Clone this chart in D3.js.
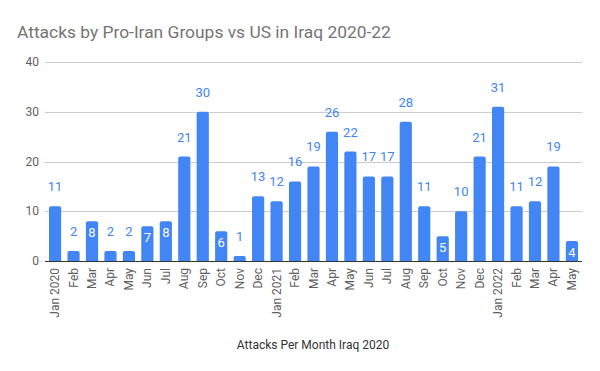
<!DOCTYPE html>
<html>
<head>
<meta charset="utf-8">
<script src="https://cdn.jsdelivr.net/npm/d3@7"></script>
<style>
  body { margin: 0; background: #fff; }
  text { font-family: Roboto, "Noto Sans", sans-serif; }
</style>
</head>
<body>
<script>
const width = 600;
const height = 371;

// data
const months = ["Jan 2020", "Feb", "Mar", "Apr", "May", "Jun", "Jul", "Aug", "Sep", "Oct", "Nov", "Dec",
  "Jan 2021", "Feb", "Mar", "Apr", "May", "Jun", "Jul", "Aug", "Sep", "Oct", "Nov", "Dec",
  "Jan 2022", "Feb", "Mar", "Apr", "May"];
const attacks = [11, 2, 8, 2, 2, 7, 8, 21, 30, 6, 1, 13,
  12, 16, 19, 26, 22, 17, 17, 28, 11, 5, 10, 21,
  31, 11, 12, 19, 4];
const yTicks = [0, 10, 20, 30, 40];

const data = months.map((m, i) => ({ key: i, label: m, value: attacks[i] }));

const svg = d3.select("body")
  .append("svg")
  .attr("width", width)
  .attr("height", height);

const x = d3.scaleBand()
  .domain(data.map(d => d.key))
  .range([49, 578])
  .paddingInner(0.34)
  .paddingOuter(0);

const y = d3.scaleLinear()
  .domain([0, 40])
  .range([261, 62]);

// title
svg.append("text")
  .attr("x", 17)
  .attr("y", 38)
  .style("font-size", "17.4px")
  .style("fill", "#757575")
  .text("Attacks by Pro-Iran Groups vs US in Iraq 2020-22");

// gridlines
svg.append("g")
  .selectAll("line")
  .data(yTicks)
  .enter().append("line")
  .attr("x1", 45)
  .attr("x2", 582)
  .attr("y1", d => Math.round(y(d)) + 0.5)
  .attr("y2", d => Math.round(y(d)) + 0.5)
  .attr("stroke", "#cccccc");

// y tick labels
svg.append("g")
  .selectAll("text")
  .data(yTicks)
  .enter().append("text")
  .attr("x", 39)
  .attr("y", d => y(d) + 4)
  .attr("text-anchor", "end")
  .style("font-size", "12px")
  .style("fill", "#616161")
  .text(d => d);

// bars with rounded tops
function barPath(d) {
  const x0 = x(d.key), w = x.bandwidth();
  const top = y(d.value), bottom = y(0);
  const r = Math.min(2, (bottom - top) / 2);
  return `M${x0},${bottom}V${top + r}Q${x0},${top} ${x0 + r},${top}H${x0 + w - r}Q${x0 + w},${top} ${x0 + w},${top + r}V${bottom}Z`;
}

svg.append("g")
  .selectAll("path")
  .data(data)
  .enter().append("path")
  .attr("d", barPath)
  .attr("fill", "#4285f4");

// value labels: inside the bar when it fits
const inside = d => d.value >= 4 && d.value <= 8;

svg.append("g")
  .selectAll("text")
  .data(data)
  .enter().append("text")
  .attr("x", d => x(d.key) + x.bandwidth() / 2)
  .attr("y", d => inside(d) ? y(d.value) + 16 : y(d.value) - 15)
  .attr("text-anchor", "middle")
  .style("font-size", "13px")
  .style("fill", d => inside(d) ? "#ffffff" : "#4285f4")
  .text(d => d.value);

// baseline
svg.append("line")
  .attr("x1", 45)
  .attr("x2", 582)
  .attr("y1", y(0) + 0.5)
  .attr("y2", y(0) + 0.5)
  .attr("stroke", "#333333");

// x tick labels, rotated
svg.append("g")
  .selectAll("text")
  .data(data)
  .enter().append("text")
  .attr("transform", d => `translate(${x(d.key) + x.bandwidth() / 2 + 4},268) rotate(-90)`)
  .attr("text-anchor", "end")
  .style("font-size", "12px")
  .style("fill", "#616161")
  .text(d => d.label);

// axis title
svg.append("text")
  .attr("x", 313)
  .attr("y", 349)
  .attr("text-anchor", "middle")
  .style("font-size", "12px")
  .style("fill", "#333333")
  .text("Attacks Per Month Iraq 2020");
</script>
</body>
</html>
